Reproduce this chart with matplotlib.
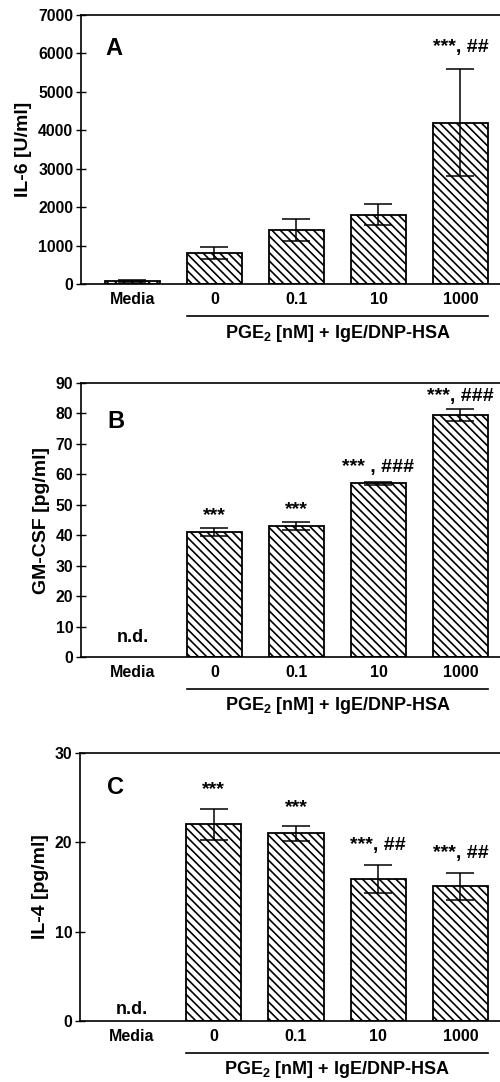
import matplotlib
matplotlib.use("Agg")
import matplotlib.pyplot as plt
import matplotlib.transforms as mtransforms
from matplotlib.lines import Line2D

plt.rcParams['font.family'] = ['Liberation Sans', 'DejaVu Sans']
plt.rcParams['font.weight'] = 'bold'
plt.rcParams['mathtext.fontset'] = 'custom'
plt.rcParams['mathtext.rm'] = 'Liberation Sans:bold'
plt.rcParams['mathtext.bf'] = 'Liberation Sans:bold'
plt.rcParams['hatch.linewidth'] = 1.2

categories = ['Media', '0', '0.1', '10', '1000']
group_label = r'PGE$_{\mathrm{2}}$ [nM] + IgE/DNP-HSA'

# Panel A: IL-6 [U/ml]
il6_mean = [80, 800, 1400, 1800, 4200]
il6_err = [25, 160, 280, 270, 1400]
il6_annot = ['', '', '', '', '***, ##']

# Panel B: GM-CSF [pg/ml] (Media not detected)
gmcsf_mean = [None, 41, 43, 57, 79.4]
gmcsf_err = [None, 1.3, 1.2, 0.5, 2.0]
gmcsf_annot = ['n.d.', '***', '***', '*** , ###', '***, ###']

# Panel C: IL-4 [pg/ml] (Media not detected)
il4_mean = [None, 22, 21, 15.9, 15.1]
il4_err = [None, 1.7, 0.8, 1.6, 1.5]
il4_annot = ['n.d.', '***', '***', '***, ##', '***, ##']

W, H = 500, 1082
fig = plt.figure(figsize=(W / 100, H / 100), dpi=100)


def px_axes(left, top, right, bottom):
    return fig.add_axes([left / W, 1 - bottom / H, (right - left) / W, (bottom - top) / H])


panels = [
    dict(box=(81, 15, 500, 284), mean=il6_mean, err=il6_err, annot=il6_annot,
         annot_y=[None, None, None, None, 6150], ylim=(0, 7000), ticks=range(0, 7001, 1000),
         ylabel='IL-6 [U/ml]', label_x=-0.117, letter='A', letter_pos=(0.079, 0.874)),
    dict(box=(81, 383, 500, 657), mean=gmcsf_mean, err=gmcsf_err, annot=gmcsf_annot,
         annot_y=[6.3, 46.3, 48.3, 62.4, 85.6], ylim=(0, 90), ticks=range(0, 91, 10),
         ylabel='GM-CSF [pg/ml]', label_x=-0.074, letter='B', letter_pos=(0.084, 0.86)),
    dict(box=(80, 753, 500, 1021), mean=il4_mean, err=il4_err, annot=il4_annot,
         annot_y=[1.3, 25.9, 23.9, 19.6, 18.8], ylim=(0, 30), ticks=range(0, 31, 10),
         ylabel='IL-4 [pg/ml]', label_x=-0.074, letter='C', letter_pos=(0.084, 0.873)),
]

xpos = list(range(len(categories)))
for p in panels:
    ax = px_axes(*p['box'])
    for i, (m, e) in enumerate(zip(p['mean'], p['err'])):
        if m is None:
            continue
        ax.bar(i, m, width=0.67, facecolor='white', edgecolor='black',
               linewidth=1.3, hatch='\\\\\\\\', zorder=2)
        ax.errorbar(i, m, yerr=e, fmt='none', ecolor='black', elinewidth=1.1,
                    capsize=10, capthick=1.1, zorder=3)
    for i, (t, y) in enumerate(zip(p['annot'], p['annot_y'])):
        if t and y is not None:
            fs = 13 if t == 'n.d.' else 14
            ax.text(i, y, t, ha='center', va='center', fontsize=fs, fontweight='bold')
    ax.set_xlim(-0.628, 4.482)
    ax.set_ylim(*p['ylim'])
    ax.set_yticks(list(p['ticks']))
    ax.set_xticks(xpos)
    ax.set_xticklabels(categories)
    ax.tick_params(axis='x', length=0, pad=6, labelsize=11.5)
    ax.tick_params(axis='y', direction='inout', length=7, width=1, pad=2, labelsize=11.3)
    for lab in ax.get_xticklabels() + ax.get_yticklabels():
        lab.set_fontweight('bold')
    ax.spines['right'].set_visible(False)
    for s in ('left', 'bottom', 'top'):
        ax.spines[s].set_linewidth(1.2)
    ax.set_ylabel(p['ylabel'], fontsize=14, fontweight='bold')
    ax.yaxis.set_label_coords(p['label_x'], 0.5)
    ax.text(p['letter_pos'][0], p['letter_pos'][1], p['letter'], transform=ax.transAxes,
            fontsize=17, fontweight='bold', ha='center', va='center')
    # bracket under concentration groups
    trans = mtransforms.blended_transform_factory(ax.transData, ax.transAxes)
    hpx = p['box'][3] - p['box'][1]
    ax.add_line(Line2D([0.665, 4.335], [-32 / hpx, -32 / hpx], transform=trans,
                       color='black', linewidth=1.2, clip_on=False))
    ax.text(2.5, -49 / hpx, group_label, transform=trans, ha='center', va='center',
            fontsize=13, fontweight='bold')

fig.savefig('out.png', dpi=100)
